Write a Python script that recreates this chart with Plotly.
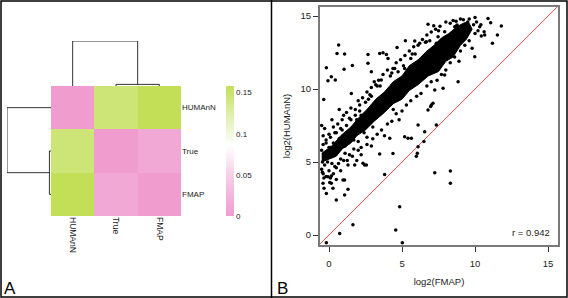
import plotly.graph_objects as go

# ---------------- data ----------------
labels = ["HUMAnN", "True", "FMAP"]
dist = [
    [0.000, 0.145, 0.158],
    [0.145, 0.000, 0.012],
    [0.158, 0.012, 0.000],
]
cbar_ticks = [0, 0.05, 0.1, 0.15]
cbar_text = ["0", "0.05", "0.1", "0.15"]
# dendrogram: (True, FMAP) merge height, then root merge height
merge_h = [0.0055, 0.153]

# dense core of the scatter (outline of the solid band)
band_x = [-0.5, 0.2, 0.8, 1.5, 2.1, 2.6, 3.2, 3.8, 4.4, 5.0, 5.5, 6.1, 6.7, 7.2, 7.7, 8.2, 8.8,
          9.3, 9.6, 9.8, 9.4, 9.0, 8.5, 8.0, 7.5, 6.8, 6.1, 5.5, 5.0, 4.4, 3.8, 3.1, 2.5, 1.9,
          1.5, 0.9, 0.5, -0.5]
band_y = [5.6, 6.1, 6.8, 7.4, 8.1, 8.6, 9.3, 9.8, 10.5, 10.9, 11.6, 12.0, 12.6, 13.0, 13.5, 13.8, 14.3,
          14.55, 14.5, 14.1, 13.4, 13.0, 12.2, 11.9, 11.2, 10.9, 10.3, 9.9, 9.3, 9.0, 8.4, 7.8, 7.2, 6.8,
          6.3, 5.9, 5.4, 5.0]

# individual points around the band and outliers
pts_x = [6.78, 7.17, 0.66, 0.55, 1.07, 2.67, -0.18, 1.03, 1.60, 0.16, -0.07, 0.43, 1.53, -0.36,
         3.47, 3.70, 3.93, 4.04, 4.66, 5.23, 5.87, 6.21, 6.67, 2.90, 3.58, 4.38, 4.73, 5.18, 2.67,
         7.35, 7.47, 7.92, 8.61, 8.77, 10.66, 10.43, 10.32, 9.98, 8.84, 7.92, 7.81, 7.24, 6.78,
         7.01, 7.12, 7.35, 6.10, 5.18, 5.64, 5.41, 6.10, 5.98, 4.16, 4.38, 3.47, 3.81, 7.24, 8.31,
         8.31, 2.44, 4.84, 4.57, 1.64, 0.73, -0.18, 5.02, -0.18, 0.50, 1.07, 1.30, 0.96, 1.07, 0.16,
         0.27, -0.34, -0.07, 0.16, -0.41, 2.56, 2.33, 1.76, 10.89, 11.07, 11.80, 11.53, 11.19, 10.62,
         6.96, 6.50, 6.05, 6.55,
         0.0, 0.3, 0.6, 0.9, 1.2, 1.5, 1.8, 2.0, 2.3, 2.6, 2.9, 3.1, 3.4, 3.7, 4.0, 4.3, 4.6, 4.9,
         5.2, 5.5, 5.8, 6.1, 6.4, 6.7, 7.0, 7.3, 7.6, 2.1, 1.0, 0.2, -0.3, -0.4, -0.5, 0.7, 2.8,
         3.3, 4.5, 5.7, 6.6, 8.0,
         0.5, 1.0, 1.3, 1.6, 2.0, 2.2, 2.6, 3.0, 3.3, 3.6, 4.0, 4.3, 4.6, 5.0, 5.3, 5.6, 6.0, 6.3,
         6.7, 7.0, 7.4, 7.7, 8.0, 8.3, 8.6, 9.0, 9.3, 9.6, 10.0, 10.2, 9.8, 8.9, 4.8, 3.8, 2.9,
         1.9, 0.8,
         -0.5, -0.4, -0.3, -0.2, 0.0, 0.1, 0.3, 0.5, -0.45, 0.2,
         0.4, 0.8, 1.1, 1.4, 1.7, 2.2, 2.4, 2.7, 3.0, 3.5, 3.9, 4.2, 4.7, 5.1, 5.4, 5.9, 6.3, 6.9,
         7.1, 7.5, 7.8, 8.4, 8.7, 9.1, 9.5, 9.9, 0.1, -0.2, 1.9, 3.2, 4.4, 5.6, 6.8, 8.1,
         -0.5, -0.4, -0.3, -0.2, -0.1, 0.0, 0.1, 0.2, 0.3, 0.4, 0.5, 0.6, 0.7, 0.8, 0.9, 1.0, 1.1,
         1.2, 1.3, 1.4, 1.5, 1.6, 1.7, 1.8, 1.9, 2.0, 2.1, 2.2, 2.3, 2.5, 2.6, 2.7, 2.9, 3.0,
         -0.45, -0.35, 0.05, 0.35, 0.65, 1.25,
         8.3, 8.5, 9.0, 9.6, 10.1, 10.4, 10.0, 9.2, 8.7]
pts_y = [14.43, 14.34, 13.01, 12.44, 12.40, 12.37, 11.46, 11.35, 11.62, 10.84, 10.57, 10.62, 9.70, 9.29,
         12.44, 12.49, 12.37, 12.10, 12.85, 13.31, 13.29, 13.13, 13.24, 11.19, 10.62, 11.41, 11.19, 11.41, 11.76,
         13.13, 13.58, 13.93, 14.27, 14.38, 13.70, 13.63, 14.27, 12.21, 10.50, 10.96, 10.05, 9.93, 8.56,
         8.90, 9.02, 7.53, 7.53, 6.73, 6.62, 6.62, 6.05, 5.40, 6.62, 5.59, 5.55, 4.15, 4.27, 4.38,
         3.54, 4.79, 1.94, 0.34, 0.70, 0.11, -0.53, -0.53, 2.85, 2.40, 2.74, 3.13, 3.77, 3.77, 3.54,
         3.20, 3.20, 3.99, 4.04, 3.54, 4.79, 4.91, 4.79, 14.84, 14.54, 14.31, 13.70, 13.13, 13.93,
         8.80, 6.40, 5.60, 7.08,
         6.9, 7.4, 7.6, 7.9, 8.4, 8.7, 8.6, 9.2, 9.4, 9.8, 10.1, 10.5, 10.6, 11.0, 11.3, 11.1, 11.8, 12.0,
         12.3, 12.6, 12.9, 13.0, 13.4, 13.7, 13.9, 14.1, 14.3, 8.9, 8.2, 7.9, 7.3, 6.8, 7.5, 8.6, 9.6,
         10.2, 11.4, 12.4, 13.2, 14.6,
         4.6, 5.1, 4.8, 5.4, 5.8, 5.5, 6.2, 6.6, 6.9, 7.2, 7.6, 7.8, 8.3, 8.5, 8.9, 9.2, 9.5, 9.7,
         10.2, 10.5, 10.6, 11.0, 11.3, 11.8, 12.2, 12.6, 13.0, 13.3, 13.8, 14.0, 12.8, 11.9, 7.9, 6.8, 6.1,
         5.1, 4.4,
         4.5, 4.2, 4.8, 4.0, 4.4, 3.9, 4.2, 3.8, 5.0, 4.9,
         7.0, 7.3, 6.1, 8.0, 6.5, 8.2, 7.0, 9.3, 8.0, 10.2, 8.9, 10.9, 9.3, 11.6, 10.1, 12.4, 10.9, 13.3,
         11.4, 14.0, 12.1, 12.9, 14.3, 13.3, 14.6, 14.4, 6.0, 6.3, 7.9, 10.3, 8.6, 12.1, 11.6, 13.2,
         5.8, 6.2, 5.3, 6.5, 5.0, 6.0, 6.7, 5.4, 6.3, 4.7, 7.0, 5.9, 6.6, 5.2, 7.2, 6.1, 5.6,
         7.5, 6.8, 5.5, 7.9, 6.6, 5.9, 8.2, 7.1, 6.4, 8.5, 6.0, 7.8, 9.1, 6.7, 8.3, 9.5, 7.4,
         4.3, 3.9, 3.6, 5.6, 4.9, 5.1,
         14.5, 14.7, 14.8, 14.8, 14.6, 14.4, 14.9, 14.75, 14.65]
r_text = "r = 0.942"
sc_ticks = [0, 5, 10, 15]

# ---------------- figure ----------------
W, H = 568, 298
def px(x): return x / W
def py(y): return 1 - y / H

FONT = "Liberation Sans, Arial, sans-serif"
TXT = "#222222"
fig = go.Figure()

# heatmap
colorscale = [[0.0, "#F09CCF"], [0.3, "#F7CCE6"], [0.54, "#FFFFFF"],
              [0.76, "#E2F0B4"], [1.0, "#C2DF57"]]
fig.add_trace(go.Heatmap(
    z=dist, x=[0, 1, 2], y=[0, 1, 2], colorscale=colorscale, zmin=0, zmax=0.158,
    xaxis="x", yaxis="y", showscale=True, xgap=0, ygap=0,
    colorbar=dict(thickness=8, thicknessmode="pixels", len=130, lenmode="pixels",
                  x=px(226), xanchor="left", y=py(151), yanchor="middle",
                  xpad=0, ypad=0, outlinewidth=0, ticks="", tickvals=cbar_ticks,
                  ticktext=cbar_text, tickfont=dict(size=8, family=FONT, color=TXT)),
    hoverinfo="skip"))

# dendrograms computed from merge heights
h1, h2 = merge_h
c1 = 1.5  # centre of True/FMAP cluster
top_x = [1, 1, 2, 2, None, 0, 0, c1, c1]
top_y = [0, h1, h1, 0, None, 0, h2, h2, h1]
fig.add_trace(go.Scatter(x=top_x, y=top_y, mode="lines", xaxis="x3", yaxis="y3",
                         line=dict(color="#333333", width=1), hoverinfo="skip"))
fig.add_trace(go.Scatter(x=top_y, y=top_x, mode="lines", xaxis="x4", yaxis="y4",
                         line=dict(color="#333333", width=1), hoverinfo="skip"))

# scatter
fig.add_trace(go.Scatter(x=[-0.7, 15.7], y=[-0.7, 15.7], mode="lines", xaxis="x2", yaxis="y2",
                         line=dict(color="#E85050", width=1), hoverinfo="skip"))
fig.add_trace(go.Scatter(x=band_x, y=band_y, mode="lines", fill="toself", fillcolor="black",
                         line=dict(color="black", width=1), xaxis="x2", yaxis="y2",
                         hoverinfo="skip"))
fig.add_trace(go.Scatter(x=pts_x, y=pts_y, mode="markers", xaxis="x2", yaxis="y2",
                         marker=dict(color="black", size=3.5, line=dict(width=0)),
                         hoverinfo="skip"))

hm_dom_x = [px(51), px(181)]
hm_dom_y = [py(216), py(86)]
fig.update_layout(
    width=W, height=H, margin=dict(l=0, r=0, t=0, b=0, autoexpand=False),
    paper_bgcolor="white", plot_bgcolor="white", showlegend=False,
    font=dict(family=FONT, color=TXT),
    xaxis=dict(domain=hm_dom_x, range=[-0.5, 2.5], tickvals=[0, 1, 2], ticktext=labels,
               tickangle=90, showgrid=False, zeroline=False, showline=False, ticks="",
               automargin=False,
               tickfont=dict(size=8.5, family=FONT, color=TXT), anchor="y"),
    yaxis=dict(domain=hm_dom_y, range=[2.5, -0.5], tickvals=[0, 1, 2], ticktext=labels,
               side="right", showgrid=False, zeroline=False, showline=False, ticks="",
               automargin=False,
               tickfont=dict(size=8, family=FONT, color=TXT), anchor="x"),
    xaxis3=dict(domain=hm_dom_x, range=[-0.5, 2.5], visible=False, anchor="y3", automargin=False),
    yaxis3=dict(domain=[py(86), py(41)], range=[0, h2], visible=False, anchor="x3", automargin=False),
    xaxis4=dict(domain=[px(7), px(51)], range=[h2, 0], visible=False, anchor="y4", automargin=False),
    yaxis4=dict(domain=hm_dom_y, range=[2.5, -0.5], visible=False, anchor="x4", automargin=False),
    xaxis2=dict(domain=[px(320), px(558)], range=[-0.616, 15.68], tickvals=sc_ticks,
                showgrid=False, zeroline=False, showline=True, mirror=True,
                linecolor="#7A7A7A", linewidth=2, ticks="outside", ticklen=5,
                tickcolor="#333333", tickfont=dict(size=9.5, family=FONT, color=TXT),
                ticklabelstandoff=4, automargin=False,
                title=dict(text="log2(FMAP)", font=dict(size=9.5, family=FONT, color=TXT),
                           standoff=10), anchor="y2"),
    yaxis2=dict(domain=[py(245), py(7)], range=[-0.685, 15.62], tickvals=sc_ticks,
                showgrid=False, zeroline=False, showline=True, mirror=True,
                linecolor="#7A7A7A", linewidth=2, ticks="outside", ticklen=5,
                tickcolor="#333333", tickfont=dict(size=9.5, family=FONT, color=TXT),
                automargin=False,
                title=dict(text="log2(HUMAnN)", font=dict(size=9.5, family=FONT, color=TXT),
                           standoff=8), anchor="x2"),
)

fig.add_annotation(x=px(552), y=py(232), xref="paper", yref="paper", text=r_text,
                   showarrow=False, xanchor="right", yanchor="middle",
                   font=dict(size=9.5, family=FONT, color=TXT))
fig.add_annotation(x=px(2), y=py(288), xref="paper", yref="paper", text="A",
                   showarrow=False, xanchor="left", yanchor="middle",
                   font=dict(size=17, family=FONT, color="black"))
fig.add_annotation(x=px(275), y=py(288), xref="paper", yref="paper", text="B",
                   showarrow=False, xanchor="left", yanchor="middle",
                   font=dict(size=17, family=FONT, color="black"))

fig.add_shape(type="rect", xref="paper", yref="paper", x0=px(1), y0=py(297),
              x1=px(567), y1=py(1), line=dict(color="black", width=1.5))
fig.add_shape(type="line", xref="paper", yref="paper", x0=px(271.5), x1=px(271.5),
              y0=0, y1=1, line=dict(color="black", width=1.5))

fig.write_html("out.html", config={"displayModeBar": False, "staticPlot": True},
               post_script="document.body.style.margin='0';document.body.style.padding='0';"
                           "document.documentElement.style.overflow='hidden';")
